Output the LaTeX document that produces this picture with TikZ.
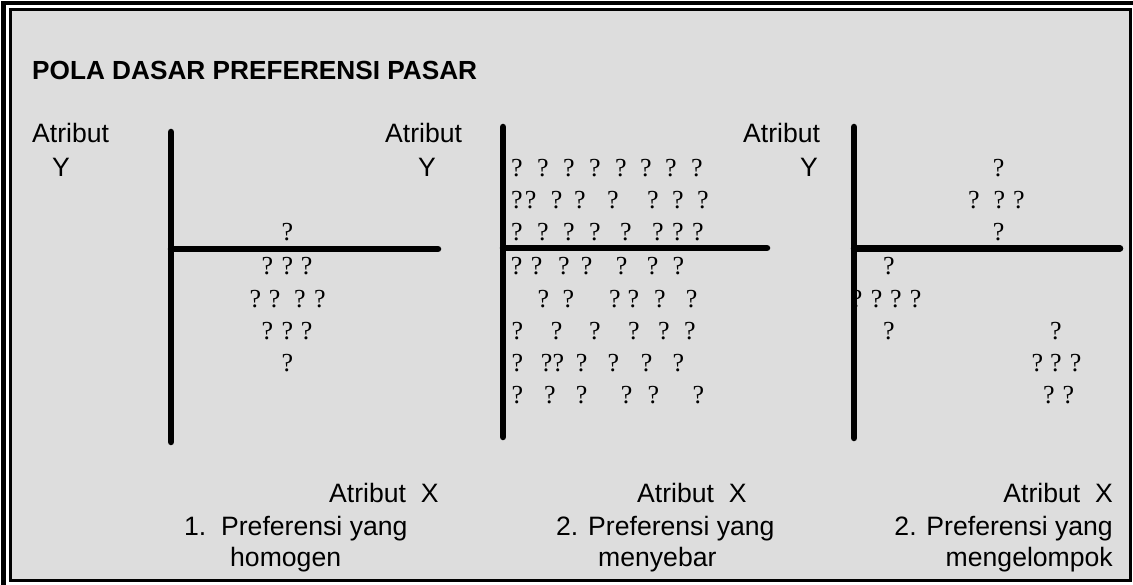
\documentclass[tikz,border=0pt]{standalone}
\usepackage{fontspec}
\setmainfont{Liberation Sans}
\newfontfamily\qserif{Liberation Serif}
\definecolor{panelgray}{HTML}{DDDDDD}
\tikzset{
  qm/.style={font=\qserif\fontsize{26}{30}\selectfont, inner sep=0pt, anchor=base},
  lbl/.style={font=\fontsize{26.6}{32}\selectfont, inner sep=0pt, anchor=base west},
  lblr/.style={font=\fontsize{26.6}{32}\selectfont, inner sep=0pt, anchor=base east},
  ttl/.style={font=\bfseries\fontsize{26.2}{30}\selectfont, inner sep=0pt, anchor=base west},
  axisline/.style={line width=6.5pt, line cap=round},
}
\begin{document}
\begin{tikzpicture}[x=1pt,y=-1pt]
\useasboundingbox (0,0) rectangle (1133,585);
\clip (0,0) rectangle (1133,585);
\fill[white] (0,0) rectangle (1133,585);
% outer frame
\draw[line width=4.5pt] (3.5,3) rectangle (1150,600);
% inner frame
\draw[line width=3pt, fill=panelgray] (10.5,9.5) rectangle (1130.5,580);
% title
\node[ttl] (title) at (32,79.5) {POLA DASAR PREFERENSI PASAR};
% Y-axis labels
\node[lbl] (ay1) at (32,143) {Atribut};
\node[lbl] (y1) at (52,177) {Y};
\node[lbl] (ay2) at (385,143) {Atribut};
\node[lbl] (y2) at (418,177) {Y};
\node[lbl] (ay3) at (743,143) {Atribut};
\node[lbl] (y3) at (800,177) {Y};
% panel 1 question marks
\node[qm] (a1) at (287.3,241) {?};
\foreach \x [count=\i] in {267.3,287.3,306.7} \node[qm] (a2-\i) at (\x,275) {?};
\foreach \x [count=\i] in {255.3,274.7,300,320} \node[qm] (a3-\i) at (\x,307.5) {?};
\foreach \x [count=\i] in {267.3,287.3,306.7} \node[qm] (a4-\i) at (\x,340) {?};
\node[qm] (a5) at (287.3,371.7) {?};
% panel 2 question marks
\foreach \x [count=\i] in {517,543,569,595,621,646,671,697} \node[qm] (b1-\i) at (\x,176.5) {?};
\foreach \x [count=\i] in {517,530.7,556.7,580,613,653,678,703} \node[qm] (b2-\i) at (\x,209) {?};
\foreach \x [count=\i] in {517,543,569,595,626,658,678,698} \node[qm] (b3-\i) at (\x,241) {?};
\foreach \x [count=\i] in {516.7,536.7,564,586.7,621.7,652.7,678.3} \node[qm] (b4-\i) at (\x,275) {?};
\foreach \x [count=\i] in {543.3,568.3,615,633.3,660,691.7} \node[qm] (b5-\i) at (\x,307.5) {?};
\foreach \x [count=\i] in {517.3,556.7,595,634,664,690} \node[qm] (b6-\i) at (\x,340) {?};
\foreach \x [count=\i] in {517.3,546.7,558.3,581.7,613.3,646.7,678.3} \node[qm] (b7-\i) at (\x,371.7) {?};
\foreach \x [count=\i] in {517.3,550,581.7,626.7,653.3,698.3} \node[qm] (b8-\i) at (\x,403.3) {?};
% panel 3 question marks
\node[qm] (c1) at (998.7,176.5) {?};
\foreach \x [count=\i] in {974,999.3,1019} \node[qm] (c2-\i) at (\x,209) {?};
\node[qm] (c3) at (998.7,241) {?};
\node[qm] (c4) at (889,275) {?};
\foreach \x [count=\i] in {856.7,876.7,896,915.7} \node[qm] (c5-\i) at (\x,307.5) {?};
\node[qm] (c6) at (889,340) {?};
\node[qm] (c7) at (1056,340) {?};
\foreach \x [count=\i] in {1037.3,1056,1075.7} \node[qm] (c8-\i) at (\x,371.7) {?};
\foreach \x [count=\i] in {1049,1068.3} \node[qm] (c9-\i) at (\x,403.3) {?};
% axes
\coordinate (v1t) at (171,132); \coordinate (v1b) at (171,442);
\coordinate (h1l) at (171,249); \coordinate (h1r) at (438,249);
\coordinate (v2t) at (503,127); \coordinate (v2b) at (503,437);
\coordinate (h2l) at (503,248); \coordinate (h2r) at (767,248);
\coordinate (v3t) at (854,127); \coordinate (v3b) at (854,438);
\coordinate (h3l) at (854,248.3); \coordinate (h3r) at (1120,248.3);
\draw[axisline] (v1t) -- (v1b); \draw[axisline] (h1l) -- (h1r);
\draw[axisline] (v2t) -- (v2b); \draw[axisline] (h2l) -- (h2r);
\draw[axisline] (v3t) -- (v3b); \draw[axisline] (h3l) -- (h3r);
% bottom labels
\node[lbl] (x1) at (329,502) {Atribut\ \ X};
\node[lbl] (p1) at (184,535) {1.\ \ Preferensi yang};
\node[lbl] (h1) at (230,566) {homogen};
\node[lbl] (x2) at (637,502) {Atribut\ \ X};
\node[lbl] (p2) at (556,535) {2. Preferensi yang};
\node[lbl] (m2) at (598,566) {menyebar};
\node[lblr] (x3) at (1113,502) {Atribut\ \ X};
\node[lblr] (p3) at (1113,535) {2. Preferensi yang};
\node[lblr] (m3) at (1113,566) {mengelompok};
\end{tikzpicture}
\end{document}
